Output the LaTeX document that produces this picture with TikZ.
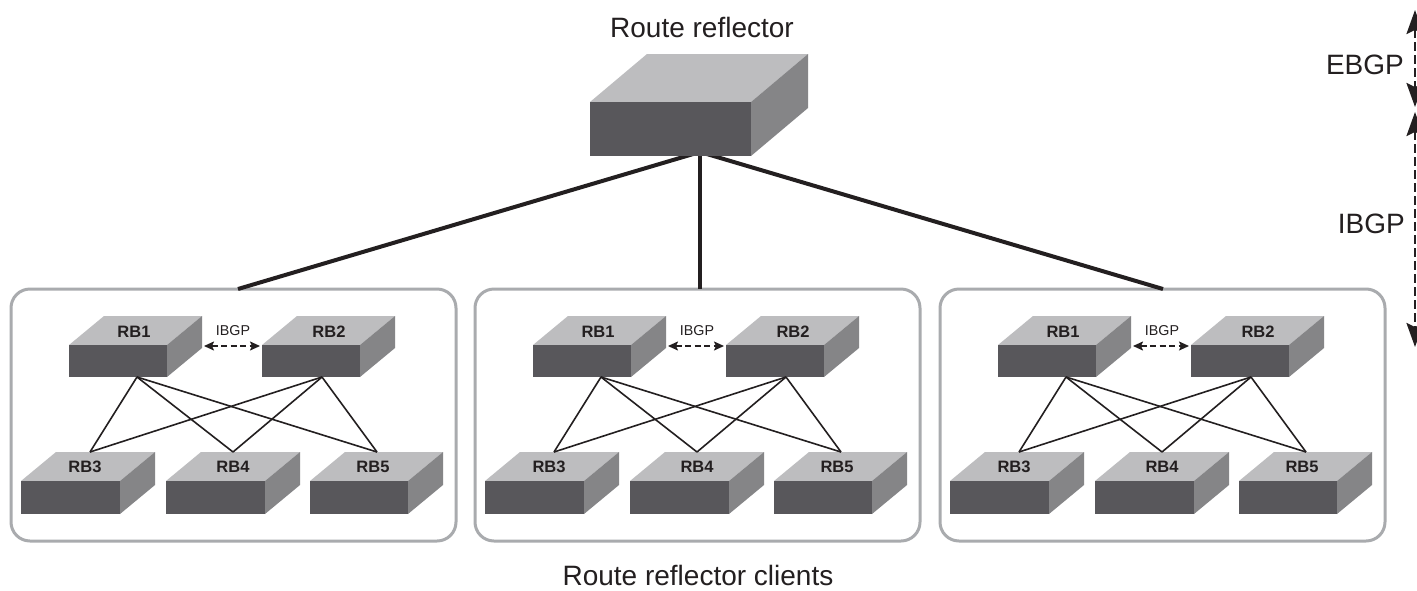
\documentclass[tikz,border=0pt]{standalone}
\usepackage{fontspec}
\setmainfont{Liberation Sans}
\usetikzlibrary{arrows.meta}
\definecolor{swfront}{HTML}{58575B}
\definecolor{swtop}{HTML}{BDBDBF}
\definecolor{swside}{HTML}{858587}
\definecolor{grpedge}{HTML}{A9ABAE}
\definecolor{ink}{HTML}{231F20}
\tikzset{
  frontface/.style={fill=swfront,draw=none,inner sep=0pt,outer sep=0pt,rectangle},
  topface/.style={fill=swtop,draw=none},
  sideface/.style={fill=swside,draw=none},
  grpbox/.style={draw=grpedge,line width=3pt,rounded corners=19pt,fill=white,rectangle,inner sep=0pt,outer sep=0pt},
  biglabel/.style={font=\fontsize{28}{28}\selectfont,text=ink,inner sep=0pt},
  rblabel/.style={font=\fontsize{16.5}{16.5}\selectfont\bfseries,text=ink,inner sep=0pt},
  smalllabel/.style={font=\fontsize{14.3}{14.3}\selectfont,text=ink,inner sep=0pt},
  uplink/.style={draw=ink,line width=4pt},
  meshlink/.style={draw=ink,line width=1.6pt},
  smallarrow/.style={draw=ink,line width=1.6pt,dash pattern=on 6pt off 3.5pt,{Stealth[length=10pt,width=9pt,inset=2pt]}-{Stealth[length=10pt,width=9pt,inset=2pt]}},
  bigarrow/.style={draw=ink,line width=2.4pt,dash pattern=on 9pt off 4pt,{Stealth[length=24pt,width=17pt,inset=4pt]}-{Stealth[length=24pt,width=17pt,inset=4pt]}},
}
% name, left x, front top y, width, height, dx, dy
\newcommand{\swbox}[7]{%
  \fill[topface] (#2,#3) -- ++(#6,-#7) -- ++(#4,0) -- ++(-#6,#7) -- cycle;
  \fill[sideface] (#2+#4,#3) -- ++(#6,-#7) -- ++(0,#5) -- ++(-#6,#7) -- cycle;
  \node[frontface,minimum width=#4pt,minimum height=#5pt] (#1) at (#2+#4/2,#3+#5/2) {};
}
\begin{document}
\begin{tikzpicture}[x=1pt,y=-1pt]
\useasboundingbox (0,0) rectangle (1417,590);
\fill[white] (0,0) rectangle (1417,590);

% apex of the three uplinks, hidden behind the route reflector
\coordinate (apex) at (700,152);
\foreach \g/\ox in {1/0,2/464,3/929}{
  \node[grpbox,minimum width=445pt,minimum height=252pt] (box\g) at (233.5+\ox,415) {};
}
\coordinate (box1up) at (238,289);
\coordinate (box2up) at (700,289);
\coordinate (box3up) at (1163,289);
\draw[uplink] (apex) -- (box1up);
\draw[uplink] (apex) -- (box2up);
\draw[uplink] (apex) -- (box3up);

\swbox{rr}{590}{102}{161}{54}{57}{48}

\foreach \g/\ox in {1/0,2/464,3/929}{
\begin{scope}[shift={(\ox,0)}]
  \swbox{g\g rb1}{69}{345}{98}{32}{35}{29}
  \swbox{g\g rb2}{262}{345}{98}{32}{35}{29}
  \swbox{g\g rb3}{21}{481}{99}{33}{35}{29}
  \swbox{g\g rb4}{166}{481}{99}{33}{35}{29}
  \swbox{g\g rb5}{310}{481}{98}{33}{35}{29}
  \node[rblabel] (g\g l1) at (134,332) {RB1};
  \node[rblabel] (g\g l2) at (329,332) {RB2};
  \node[rblabel] (g\g l3) at (85,467) {RB3};
  \node[rblabel] (g\g l4) at (233,467) {RB4};
  \node[rblabel] (g\g l5) at (373,467) {RB5};
  \coordinate (g\g o1) at (137,377);
  \coordinate (g\g o2) at (322,377);
  \coordinate (g\g i3) at (90,452);
  \coordinate (g\g i4) at (233,452);
  \coordinate (g\g i5) at (377,452);
  \foreach \a in {1,2}{
    \foreach \b in {3,4,5}{
      \draw[meshlink] (g\g o\a) -- (g\g i\b);
    }
  }
  \node[smalllabel] (g\g ib) at (233,331) {IBGP};
  \coordinate (g\g aL) at (204,346);
  \coordinate (g\g aR) at (260,346);
  \draw[smallarrow] (g\g aL) -- (g\g aR);
\end{scope}
}

\node[biglabel] (title) at (702,27) {Route reflector};
\node[biglabel] (clients) at (698,575) {Route reflector clients};
\node[biglabel,anchor=east] (ebgp) at (1404,65) {EBGP};
\node[biglabel,anchor=east] (ibgp) at (1405,224) {IBGP};
\coordinate (e1) at (1415,10);
\coordinate (e2) at (1415,107);
\coordinate (i1) at (1415,112);
\coordinate (i2) at (1415,347);
\draw[bigarrow] (e1) -- (e2);
\draw[bigarrow] (i1) -- (i2);
\end{tikzpicture}
\end{document}
